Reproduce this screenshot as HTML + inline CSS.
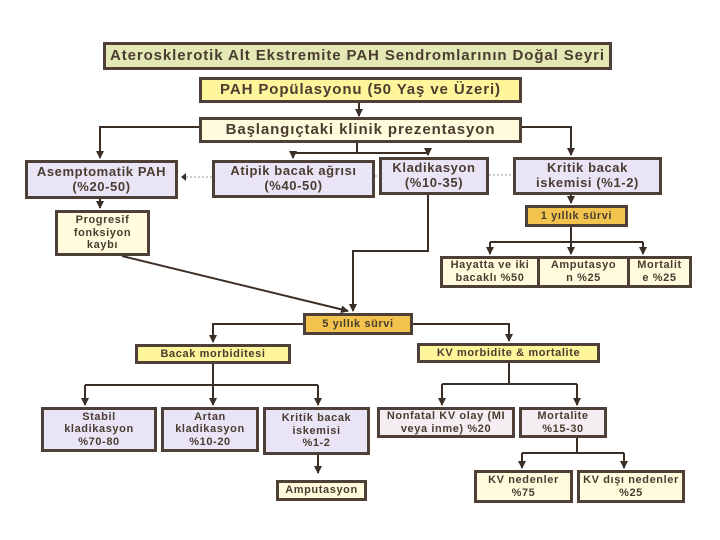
<!DOCTYPE html>
<html><head><meta charset="utf-8"><style>
body{margin:0;width:720px;height:540px;background:#fff;position:relative;overflow:hidden;font-family:"Liberation Sans",sans-serif;font-weight:bold;color:#4a3c30}
.b{position:absolute;box-sizing:border-box;border:3px solid #4e4036;display:flex;align-items:center;justify-content:center;text-align:center;line-height:1.15;letter-spacing:.6px}
.t{background:#e3e8b5}.y{background:#fff59a}.c{background:#fffbdc}.l{background:#e9e5f7}.p{background:#f4edf1}.o{background:#f2c44e}
svg{position:absolute;left:0;top:0}
</style></head><body>
<svg width="720" height="540" viewBox="0 0 720 540">
<defs><marker id="a" markerWidth="8" markerHeight="8" refX="7" refY="4" orient="auto" markerUnits="userSpaceOnUse"><path d="M0,0L8,4L0,8z" fill="#3a2e26"/></marker></defs>
<g stroke="#3a2e26" stroke-width="2" fill="none">
<line x1="359" y1="103" x2="359" y2="116" marker-end="url(#a)"/>
<polyline points="199,127 100,127 100,158" marker-end="url(#a)"/>
<polyline points="522,127 571,127 571,155" marker-end="url(#a)"/>
<polyline points="357,143 357,153"/>
<polyline points="293,153 428,153"/>
<line x1="293" y1="153" x2="293" y2="158" marker-end="url(#a)"/>
<line x1="428" y1="153" x2="428" y2="155" marker-end="url(#a)"/>
<line x1="100" y1="199" x2="100" y2="208" marker-end="url(#a)"/>
<line x1="571" y1="195" x2="571" y2="203" marker-end="url(#a)"/>
<polyline points="571,227 571,242"/>
<polyline points="490,242 643,242"/>
<line x1="490" y1="242" x2="490" y2="254" marker-end="url(#a)"/>
<line x1="571" y1="242" x2="571" y2="254" marker-end="url(#a)"/>
<line x1="643" y1="242" x2="643" y2="254" marker-end="url(#a)"/>
<polyline points="428,195 428,251 353,251 353,311" marker-end="url(#a)"/>
<line x1="122" y1="256" x2="348" y2="311" marker-end="url(#a)"/>
<polyline points="303,324 213,324 213,342" marker-end="url(#a)"/>
<polyline points="413,324 509,324 509,341" marker-end="url(#a)"/>
<polyline points="213,364 213,385"/>
<polyline points="85,385 318,385"/>
<line x1="85" y1="385" x2="85" y2="405" marker-end="url(#a)"/>
<line x1="213" y1="385" x2="213" y2="405" marker-end="url(#a)"/>
<line x1="318" y1="385" x2="318" y2="405" marker-end="url(#a)"/>
<line x1="318" y1="455" x2="318" y2="473" marker-end="url(#a)"/>
<polyline points="509,363 509,384"/>
<polyline points="442,384 577,384"/>
<line x1="442" y1="384" x2="442" y2="405" marker-end="url(#a)"/>
<line x1="577" y1="384" x2="577" y2="405" marker-end="url(#a)"/>
<polyline points="577,438 577,453"/>
<polyline points="522,453 624,453"/>
<line x1="522" y1="453" x2="522" y2="468" marker-end="url(#a)"/>
<line x1="624" y1="453" x2="624" y2="468" marker-end="url(#a)"/>
</g>
<g stroke="#999" stroke-width="1" stroke-dasharray="2,2">
<line x1="182" y1="177" x2="212" y2="177"/><line x1="375" y1="176" x2="379" y2="176"/><line x1="489" y1="175" x2="513" y2="175"/>
</g>
<path d="M181,177 l5,-4 v8z" fill="#3a2e26"/>
</svg>
<div class="b t" style="left:103px;top:42px;width:509px;height:28px;font-size:15px;letter-spacing:.9px">Aterosklerotik Alt Ekstremite PAH Sendromlarının Doğal Seyri</div>
<div class="b y" style="left:199px;top:77px;width:323px;height:26px;font-size:15px;letter-spacing:.9px">PAH Popülasyonu (50 Yaş ve Üzeri)</div>
<div class="b c" style="left:199px;top:117px;width:323px;height:26px;font-size:15px;letter-spacing:.9px">Başlangıçtaki klinik prezentasyon</div>
<div class="b l" style="left:25px;top:160px;width:153px;height:39px;font-size:13px">Asemptomatik PAH<br>(%20-50)</div>
<div class="b l" style="left:212px;top:160px;width:163px;height:38px;font-size:13px">Atipik bacak ağrısı<br>(%40-50)</div>
<div class="b l" style="left:379px;top:157px;width:110px;height:38px;font-size:13px">Kladikasyon<br>(%10-35)</div>
<div class="b l" style="left:513px;top:157px;width:149px;height:38px;font-size:13px">Kritik bacak<br>iskemisi (%1-2)</div>
<div class="b c" style="left:55px;top:210px;width:95px;height:46px;font-size:11px">Progresif<br>fonksiyon<br>kaybı</div>
<div class="b o" style="left:525px;top:205px;width:103px;height:22px;font-size:11px">1 yıllık sürvi</div>
<div class="b c" style="left:440px;top:256px;width:100px;height:32px;font-size:11px">Hayatta ve iki<br>bacaklı %50</div>
<div class="b c" style="left:537px;top:256px;width:93px;height:32px;font-size:11px">Amputasyo<br>n %25</div>
<div class="b c" style="left:627px;top:256px;width:65px;height:32px;font-size:11px">Mortalit<br>e %25</div>
<div class="b o" style="left:303px;top:313px;width:110px;height:22px;font-size:11px">5 yıllık sürvi</div>
<div class="b y" style="left:135px;top:344px;width:156px;height:20px;font-size:11px">Bacak morbiditesi</div>
<div class="b y" style="left:417px;top:343px;width:183px;height:20px;font-size:11px">KV morbidite &amp; mortalite</div>
<div class="b l" style="left:41px;top:407px;width:116px;height:45px;font-size:11px">Stabil<br>kladikasyon<br>%70-80</div>
<div class="b l" style="left:161px;top:407px;width:98px;height:45px;font-size:11px">Artan<br>kladikasyon<br>%10-20</div>
<div class="b l" style="left:263px;top:407px;width:107px;height:48px;font-size:11px">Kritik bacak<br>iskemisi<br>%1-2</div>
<div class="b c" style="left:276px;top:480px;width:91px;height:21px;font-size:11px">Amputasyon</div>
<div class="b p" style="left:377px;top:407px;width:138px;height:31px;font-size:11px">Nonfatal KV olay (MI<br>veya inme) %20</div>
<div class="b p" style="left:519px;top:407px;width:88px;height:31px;font-size:11px">Mortalite<br>%15-30</div>
<div class="b c" style="left:474px;top:470px;width:99px;height:33px;font-size:11px">KV nedenler<br>%75</div>
<div class="b c" style="left:577px;top:470px;width:108px;height:33px;font-size:11px">KV dışı nedenler<br>%25</div>
</body></html>
